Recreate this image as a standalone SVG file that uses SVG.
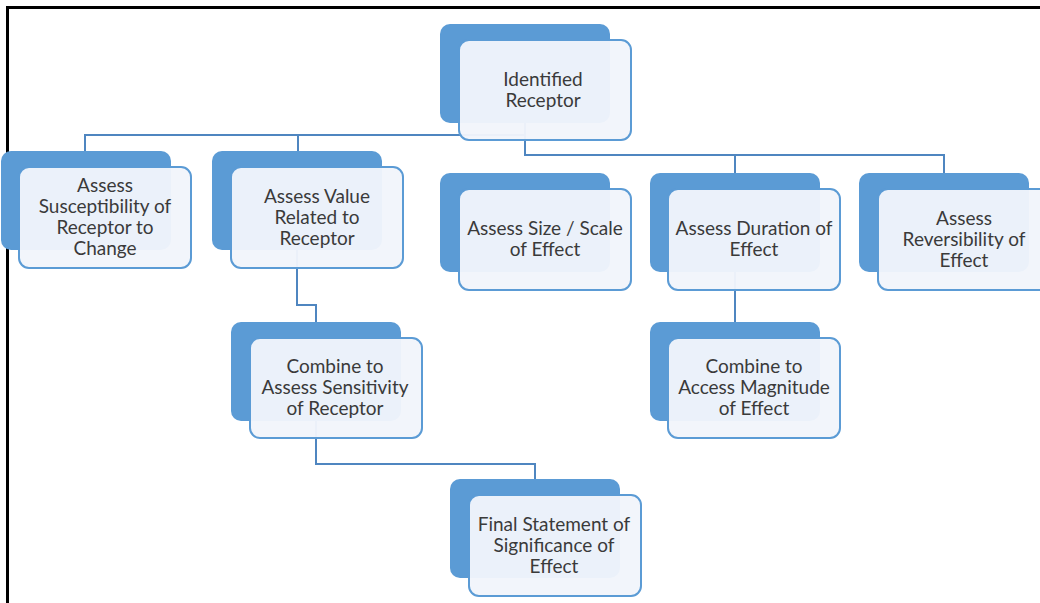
<svg xmlns="http://www.w3.org/2000/svg" width="1040" height="603" viewBox="0 0 1040 603">
  <style>
    .back { fill: #5b9bd5; }
    .front { fill: #f1f5fb; fill-opacity: 0.96; stroke: #5b9bd5; stroke-width: 2; }
    .lbl { font-family: Lato, "Open Sans", "Liberation Sans", sans-serif; font-size: 19px; fill: #3a3a3a; text-anchor: middle; }
    .conn { fill: none; stroke: #4f86c0; stroke-width: 2; }
  </style>
  <rect width="1040" height="603" fill="#ffffff"/>
  <!-- frame -->
  <path d="M7.5 603 V7.5 H1040" fill="none" stroke="#000" stroke-width="3"/>

  <g id="connectors">
    <path class="conn" d="M525 123 V135 H85 V151"/>
    <path class="conn" d="M298 135 V151"/>
    <path class="conn" d="M525 123 V155 H944 V173"/>
    <path class="conn" d="M735 155 V173"/>
    <path class="conn" d="M297 250 V305 H316 V322"/>
    <path class="conn" d="M735 272 V322"/>
    <path class="conn" d="M316 421 V464 H535 V479"/>
  </g>

  <g id="identified-receptor">
    <rect class="back" x="440" y="24" width="170" height="99" rx="10"/>
    <rect class="front" x="459" y="40" width="172" height="100" rx="10"/>
    <text class="lbl" x="543" y="86">Identified</text>
    <text class="lbl" x="543" y="107">Receptor</text>
  </g>

  <g id="assess-susceptibility">
    <rect class="back" x="1" y="151" width="170" height="99" rx="10"/>
    <rect class="front" x="19" y="167" width="172" height="101" rx="10"/>
    <text class="lbl" x="105" y="192">Assess</text>
    <text class="lbl" x="105" y="213">Susceptibility of</text>
    <text class="lbl" x="105" y="234">Receptor to</text>
    <text class="lbl" x="105" y="255">Change</text>
  </g>

  <g id="assess-value">
    <rect class="back" x="212" y="151" width="170" height="99" rx="10"/>
    <rect class="front" x="231" y="167" width="172" height="101" rx="10"/>
    <text class="lbl" x="317" y="203">Assess Value</text>
    <text class="lbl" x="317" y="224">Related to</text>
    <text class="lbl" x="317" y="245">Receptor</text>
  </g>

  <g id="assess-size">
    <rect class="back" x="440" y="173" width="170" height="99" rx="10"/>
    <rect class="front" x="459" y="189" width="172" height="101" rx="10"/>
    <text class="lbl" x="545" y="235">Assess Size / Scale</text>
    <text class="lbl" x="545" y="256">of Effect</text>
  </g>

  <g id="assess-duration">
    <rect class="back" x="650" y="173" width="170" height="99" rx="10"/>
    <rect class="front" x="668" y="189" width="172" height="101" rx="10"/>
    <text class="lbl" x="754" y="235">Assess Duration of</text>
    <text class="lbl" x="754" y="256">Effect</text>
  </g>

  <g id="assess-reversibility">
    <rect class="back" x="859" y="173" width="170" height="99" rx="10"/>
    <rect class="front" x="878" y="189" width="172" height="101" rx="10"/>
    <text class="lbl" x="964" y="225">Assess</text>
    <text class="lbl" x="964" y="246">Reversibility of</text>
    <text class="lbl" x="964" y="267">Effect</text>
  </g>

  <g id="combine-sensitivity">
    <rect class="back" x="231" y="322" width="170" height="99" rx="10"/>
    <rect class="front" x="250" y="338" width="172" height="100" rx="10"/>
    <text class="lbl" x="335" y="373">Combine to</text>
    <text class="lbl" x="335" y="394">Assess Sensitivity</text>
    <text class="lbl" x="335" y="415">of Receptor</text>
  </g>

  <g id="combine-magnitude">
    <rect class="back" x="650" y="322" width="170" height="99" rx="10"/>
    <rect class="front" x="668" y="338" width="172" height="100" rx="10"/>
    <text class="lbl" x="754" y="373">Combine to</text>
    <text class="lbl" x="754" y="394">Access Magnitude</text>
    <text class="lbl" x="754" y="415">of Effect</text>
  </g>

  <g id="final-statement">
    <rect class="back" x="450" y="479" width="170" height="99" rx="10"/>
    <rect class="front" x="469" y="495" width="172" height="101" rx="10"/>
    <text class="lbl" x="554" y="531">Final Statement of</text>
    <text class="lbl" x="554" y="552">Significance of</text>
    <text class="lbl" x="554" y="573">Effect</text>
  </g>
</svg>
